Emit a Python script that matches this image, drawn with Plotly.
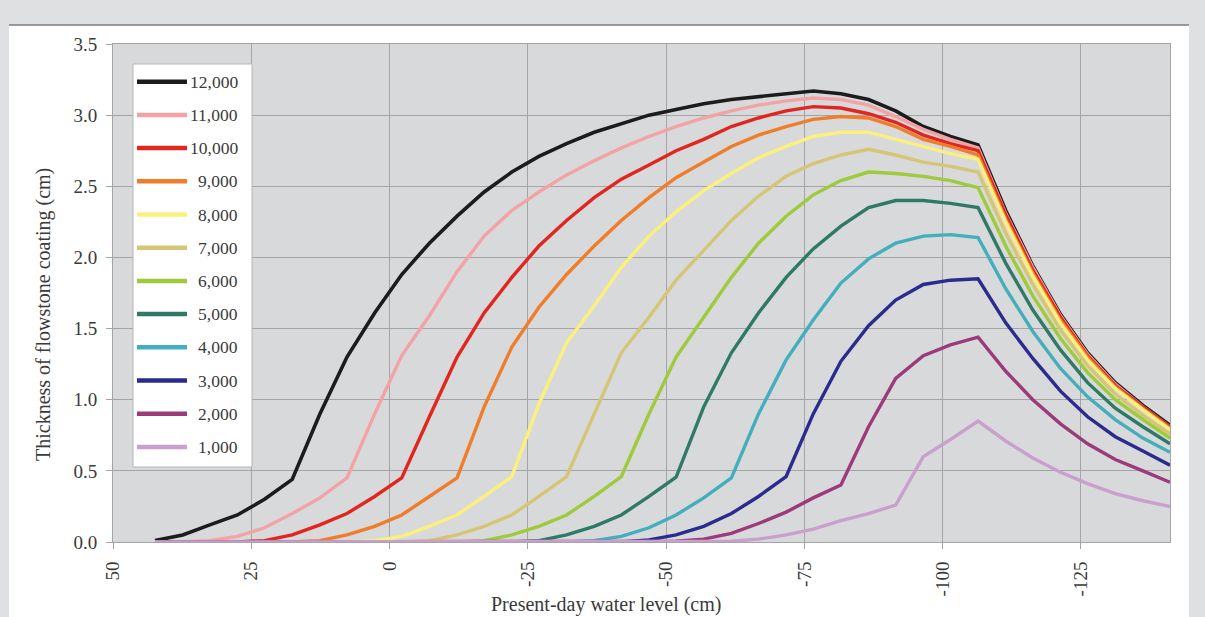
import plotly.graph_objects as go

# Present-day water level (cm) of each modelled point
X_CM = [42.4, 37.4, 32.5, 27.5, 22.6, 17.6, 12.6, 7.7, 2.7, -2.2,
        -7.2, -12.2, -17.1, -22.1, -27.0, -32.0, -37.0, -41.9, -46.9, -51.8,
        -56.8, -61.8, -66.7, -71.7, -76.6, -81.6, -86.6, -91.5, -96.5, -101.4,
        -106.4, -111.4, -116.3, -121.3, -126.2, -131.2, -136.2, -141.1]

# Flowstone thickness (cm) per elapsed time (years)
Y_12000 = [0.01, 0.05, 0.12, 0.19, 0.30, 0.44, 0.90, 1.30, 1.61, 1.88,
           2.10, 2.29, 2.46, 2.60, 2.71, 2.80, 2.88, 2.94, 3.00, 3.04,
           3.08, 3.11, 3.13, 3.15, 3.17, 3.15, 3.11, 3.03, 2.92, 2.85,
           2.79, 2.33, 1.94, 1.60, 1.33, 1.12, 0.96, 0.82]
Y_11000 = [0, 0, 0.01, 0.04, 0.10, 0.20, 0.31, 0.45, 0.90, 1.31,
           1.59, 1.90, 2.15, 2.33, 2.46, 2.58, 2.68, 2.77, 2.85, 2.92,
           2.98, 3.03, 3.07, 3.10, 3.12, 3.11, 3.07, 2.99, 2.90, 2.83,
           2.77, 2.31, 1.93, 1.59, 1.32, 1.11, 0.95, 0.81]
Y_10000 = [0, 0, 0, 0, 0.01, 0.05, 0.12, 0.20, 0.32, 0.45,
           0.88, 1.30, 1.61, 1.86, 2.08, 2.26, 2.42, 2.55, 2.65, 2.75,
           2.83, 2.92, 2.98, 3.03, 3.06, 3.05, 3.01, 2.95, 2.86, 2.80,
           2.75, 2.30, 1.91, 1.58, 1.31, 1.10, 0.95, 0.81]
Y_9000 = [0, 0, 0, 0, 0, 0, 0.01, 0.05, 0.11, 0.19,
          0.32, 0.45, 0.95, 1.37, 1.65, 1.88, 2.08, 2.26, 2.42, 2.56,
          2.67, 2.78, 2.86, 2.92, 2.97, 2.99, 2.98, 2.92, 2.83, 2.78,
          2.72, 2.27, 1.89, 1.56, 1.30, 1.09, 0.94, 0.80]
Y_8000 = [0, 0, 0, 0, 0, 0, 0, 0, 0.01, 0.04,
          0.11, 0.19, 0.32, 0.46, 0.97, 1.40, 1.66, 1.93, 2.15, 2.32,
          2.47, 2.59, 2.70, 2.78, 2.85, 2.88, 2.88, 2.83, 2.78, 2.73,
          2.69, 2.25, 1.87, 1.54, 1.28, 1.08, 0.93, 0.79]
Y_7000 = [0, 0, 0, 0, 0, 0, 0, 0, 0, 0,
          0.01, 0.05, 0.11, 0.19, 0.32, 0.46, 0.90, 1.33, 1.58, 1.84,
          2.05, 2.26, 2.43, 2.57, 2.66, 2.72, 2.76, 2.72, 2.67, 2.64,
          2.60, 2.17, 1.81, 1.49, 1.24, 1.04, 0.89, 0.76]
Y_6000 = [0, 0, 0, 0, 0, 0, 0, 0, 0, 0,
          0, 0, 0.01, 0.05, 0.11, 0.19, 0.32, 0.46, 0.90, 1.30,
          1.58, 1.86, 2.10, 2.29, 2.44, 2.54, 2.60, 2.59, 2.57, 2.54,
          2.49, 2.08, 1.73, 1.43, 1.19, 1.00, 0.86, 0.73]
Y_5000 = [0, 0, 0, 0, 0, 0, 0, 0, 0, 0,
          0, 0, 0, 0, 0.01, 0.05, 0.11, 0.19, 0.32, 0.455,
          0.95, 1.33, 1.61, 1.86, 2.06, 2.22, 2.35, 2.40, 2.40, 2.38,
          2.35, 1.96, 1.63, 1.35, 1.12, 0.94, 0.81, 0.69]
Y_4000 = [0, 0, 0, 0, 0, 0, 0, 0, 0, 0,
          0, 0, 0, 0, 0, 0, 0.01, 0.04, 0.10, 0.19,
          0.31, 0.45, 0.90, 1.28, 1.56, 1.82, 1.99, 2.10, 2.15, 2.16,
          2.14, 1.78, 1.48, 1.22, 1.02, 0.86, 0.73, 0.63]
Y_3000 = [0, 0, 0, 0, 0, 0, 0, 0, 0, 0,
          0, 0, 0, 0, 0, 0, 0, 0, 0.015, 0.05,
          0.11, 0.20, 0.32, 0.46, 0.90, 1.27, 1.52, 1.70, 1.81, 1.84,
          1.85, 1.54, 1.29, 1.06, 0.88, 0.74, 0.64, 0.54]
Y_2000 = [0, 0, 0, 0, 0, 0, 0, 0, 0, 0,
          0, 0, 0, 0, 0, 0, 0, 0, 0, 0.005,
          0.02, 0.06, 0.13, 0.21, 0.31, 0.40, 0.81, 1.15, 1.31, 1.385,
          1.44, 1.20, 1.00, 0.83, 0.69, 0.58, 0.50, 0.42]
Y_1000 = [0, 0, 0, 0, 0, 0, 0, 0, 0, 0,
          0, 0, 0, 0, 0, 0, 0, 0, 0, 0,
          0, 0.005, 0.02, 0.05, 0.09, 0.15, 0.20, 0.26, 0.60, 0.72,
          0.85, 0.71, 0.59, 0.49, 0.41, 0.34, 0.29, 0.25]

SERIES_NAMES = ["12,000", "11,000", "10,000", "9,000", "8,000", "7,000",
                "6,000", "5,000", "4,000", "3,000", "2,000", "1,000"]
SERIES_VALUES = [Y_12000, Y_11000, Y_10000, Y_9000, Y_8000, Y_7000,
                 Y_6000, Y_5000, Y_4000, Y_3000, Y_2000, Y_1000]
SERIES_COLORS = ["#1c1c1c", "#f3a3a4", "#e0261f", "#ef7d2a", "#fbf07c", "#d5c676",
                 "#9dcb3b", "#2f7a67", "#43aebc", "#2a2b8e", "#9c3a7b", "#c99fcd"]

X_TICKS = [50, 25, 0, -25, -50, -75, -100, -125]
X_TICK_TEXT = ["50", "25", "0", "-25", "-50", "-75", "-100", "-125"]
Y_TICKS = [0, 0.5, 1.0, 1.5, 2.0, 2.5, 3.0, 3.5]
Y_TICK_TEXT = ["0.0", "0.5", "1.0", "1.5", "2.0", "2.5", "3.0", "3.5"]

X_TITLE = "Present-day water level (cm)"
Y_TITLE = "Thickness of flowstone coating (cm)"

# Page geometry (pixels)
W, H = 1205, 617
ML, MR, MT, MB = 113, 35, 44, 75
PW = W - ML - MR
PH = H - MT - MB


def xp(px):
    """Pixel column -> paper x."""
    return (px - ML) / PW


def yp(py):
    """Pixel row -> paper y."""
    return (H - MB - py) / PH


SERIF = "Liberation Serif"
TEXT_COLOR = "#3a3a3a"
GRID = "#a4a4a4"
OUTER_BG = "#dfe0e2"
PLOT_BG = "#d8d9db"

fig = go.Figure()
for name, ys, color in zip(SERIES_NAMES, SERIES_VALUES, SERIES_COLORS):
    fig.add_trace(go.Scatter(
        x=X_CM, y=ys, mode="lines", name=name,
        line=dict(color=color, width=3.6 if name == "12,000" else 3.4),
        showlegend=False, hoverinfo="x+y+name",
    ))

shapes = [
    # white card behind the chart
    dict(type="rect", xref="paper", yref="paper", layer="below",
         x0=xp(9), x1=xp(1189), y0=yp(640), y1=yp(25),
         fillcolor="white", line=dict(width=0)),
    # plot area fill
    dict(type="rect", xref="paper", yref="paper", layer="below",
         x0=0, x1=1, y0=0, y1=1, fillcolor=PLOT_BG, line=dict(width=0)),
    # rule along the top of the card
    dict(type="line", xref="paper", yref="paper",
         x0=xp(9), x1=xp(1189), y0=yp(25), y1=yp(25),
         line=dict(color="#7d7d7d", width=1.5)),
]

# Legend box drawn inside the plot area
LEG_LEFT, LEG_RIGHT, LEG_TOP, LEG_BOTTOM = 133, 252, 64, 467
ROW0, ROW_STEP = 81.7, 33.2
shapes.append(dict(type="rect", xref="paper", yref="paper", layer="above",
                   x0=xp(LEG_LEFT), x1=xp(LEG_RIGHT), y0=yp(LEG_BOTTOM), y1=yp(LEG_TOP),
                   fillcolor="white", line=dict(color="#b5b5b5", width=1)))
annotations = []
for k, (name, color) in enumerate(zip(SERIES_NAMES, SERIES_COLORS)):
    row = ROW0 + ROW_STEP * k
    shapes.append(dict(type="line", xref="paper", yref="paper", layer="above",
                       x0=xp(137), x1=xp(187), y0=yp(row), y1=yp(row),
                       line=dict(color=color, width=4.5)))
    annotations.append(dict(xref="paper", yref="paper", x=xp(240), y=yp(row),
                            xanchor="right", yanchor="middle", showarrow=False,
                            text=name, font=dict(family=SERIF, size=17.5, color=TEXT_COLOR)))

annotations.append(dict(xref="paper", yref="paper", x=xp(606), y=yp(604),
                        xanchor="center", yanchor="middle", showarrow=False,
                        text=X_TITLE, font=dict(family=SERIF, size=20, color=TEXT_COLOR)))
annotations.append(dict(xref="paper", yref="paper", x=xp(43), y=yp(315),
                        xanchor="center", yanchor="middle", showarrow=False, textangle=-90,
                        text=Y_TITLE, font=dict(family=SERIF, size=20, color=TEXT_COLOR)))

axis_common = dict(
    showgrid=True, gridcolor=GRID, gridwidth=1,
    showline=True, linecolor=GRID, linewidth=1, mirror=True,
    ticks="outside", ticklen=6, tickcolor=GRID, tickwidth=1,
    zeroline=False, tickfont=dict(family=SERIF, size=19, color=TEXT_COLOR),
)

fig.update_layout(
    width=W, height=H, autosize=False,
    margin=dict(l=ML, r=MR, t=MT, b=MB, pad=0),
    paper_bgcolor=OUTER_BG, plot_bgcolor=PLOT_BG,
    showlegend=False,
    xaxis=dict(range=[50, -141.1], tickmode="array", tickvals=X_TICKS, ticktext=X_TICK_TEXT,
               tickangle=-90, ticklabelstandoff=5, **axis_common),
    yaxis=dict(range=[0, 3.5], tickmode="array", tickvals=Y_TICKS, ticktext=Y_TICK_TEXT,
               ticklabelstandoff=5, **axis_common),
    shapes=shapes,
    annotations=annotations,
)

fig.write_html("out.html")
